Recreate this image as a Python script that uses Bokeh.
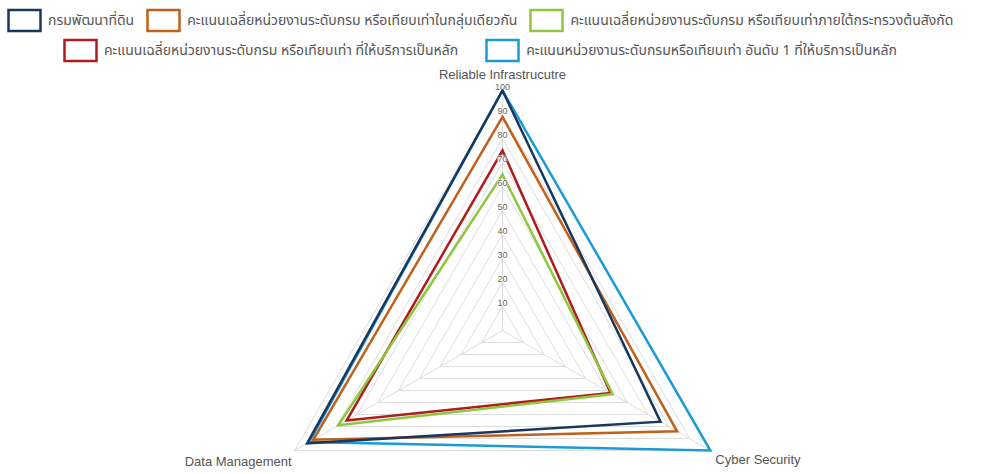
import numpy as np
from bokeh.plotting import figure
from bokeh.models import Legend, LegendItem, Range1d
from bokeh.core.properties import value
from bokeh.embed import file_html
from bokeh.resources import INLINE

categories = ["Reliable Infrastrucutre", "Cyber Security", "Data Management"]
series_names = [
    "กรมพัฒนาที่ดิน",
    "คะแนนเฉลี่ยหน่วยงานระดับกรม หรือเทียบเท่าในกลุ่มเดียวกัน",
    "คะแนนเฉลี่ยหน่วยงานระดับกรม หรือเทียบเท่าภายใต้กระทรวงต้นสังกัด",
    "คะแนนเฉลี่ยหน่วยงานระดับกรม หรือเทียบเท่า ที่ให้บริการเป็นหลัก",
    "คะแนนหน่วยงานระดับกรมหรือเทียบเท่า อันดับ 1 ที่ให้บริการเป็นหลัก",
]
land_dev = [100, 76, 94]
avg_group = [89, 84, 91]
avg_ministry = [65, 53, 79]
avg_service = [75, 52, 75]
top_service = [100, 100, 93]
series_values = [land_dev, avg_group, avg_ministry, avg_service, top_service]
colors = ["#17375E", "#C0601A", "#8DC63F", "#B01C1C", "#1A9AD6"]
tick_values = [10, 20, 30, 40, 50, 60, 70, 80, 90, 100]

W, H = 995, 474
PX = 2.4  # pixels per unit
cx, cy = 502, 330  # centre in frame pixels (from top-left)

p = figure(width=W, height=H, output_backend="svg", toolbar_location=None,
           min_border=0, x_axis_type=None, y_axis_type=None)
p.x_range = Range1d(-cx / PX, (W - cx) / PX)
p.y_range = Range1d(-(H - cy) / PX, cy / PX)
p.outline_line_color = None
p.xgrid.visible = False
p.ygrid.visible = False
p.background_fill_color = "white"

angles = np.deg2rad([90, -30, 210])
ca, sa = np.cos(angles), np.sin(angles)

# grid triangles
for t in tick_values:
    xs = list(t * ca) + [t * ca[0]]
    ys = list(t * sa) + [t * sa[0]]
    p.line(xs, ys, line_color="#dddddd", line_width=1)
# angle lines
for i in range(3):
    p.line([0, 100 * ca[i]], [0, 100 * sa[i]], line_color="#dddddd", line_width=1)

# series (first dataset on top)
renderers = {}
for idx in reversed(range(len(series_values))):
    v = np.array(series_values[idx], dtype=float)
    r = p.patch(list(v * ca), list(v * sa), fill_alpha=0, fill_color="white",
                line_color=colors[idx], line_width=2.5, line_join="miter")
    renderers[idx] = r

# tick labels
p.text(x=[0] * len(tick_values), y=tick_values, text=[str(t) for t in tick_values],
       text_font=value("Liberation Sans"), text_font_size="9px", text_color="#666666",
       text_align="center", text_baseline="middle", y_offset=-4,
       background_fill_color="white", background_fill_alpha=0.8)

# category labels
lab_font = value("Liberation Sans")
p.text(x=[100 * ca[0]], y=[100 * sa[0]], text=[categories[0]], text_font=lab_font,
       text_font_size="13px", text_color="#555555", text_align="center",
       text_baseline="middle", y_offset=-16)
p.text(x=[100 * ca[1]], y=[100 * sa[1]], text=[categories[1]], text_font=lab_font,
       text_font_size="13px", text_color="#555555", text_align="left",
       text_baseline="middle", x_offset=5, y_offset=9)
p.text(x=[100 * ca[2]], y=[100 * sa[2]], text=[categories[2]], text_font=lab_font,
       text_font_size="13px", text_color="#555555", text_align="right",
       text_baseline="middle", x_offset=-3, y_offset=11)

thai_font = "Tahoma, 'Noto Sans Thai', 'Noto Sans', sans-serif"

def make_legend(idxs, loc, spacing):
    items = [LegendItem(label=series_names[i], renderers=[renderers[i]]) for i in idxs]
    lg = Legend(items=items, orientation="horizontal", location=loc,
                glyph_width=40, glyph_height=26, label_height=26,
                label_standoff=4, spacing=spacing, padding=0, margin=0,
                border_line_alpha=0, background_fill_alpha=0,
                label_text_font=thai_font, label_text_font_size="14px",
                label_text_color="#555555")
    return lg

p.add_layout(make_legend([0, 1, 2], (4, 441), 9))
p.add_layout(make_legend([3, 4], (60, 411), 24))

open("out.html", "w").write(file_html(p, INLINE))
